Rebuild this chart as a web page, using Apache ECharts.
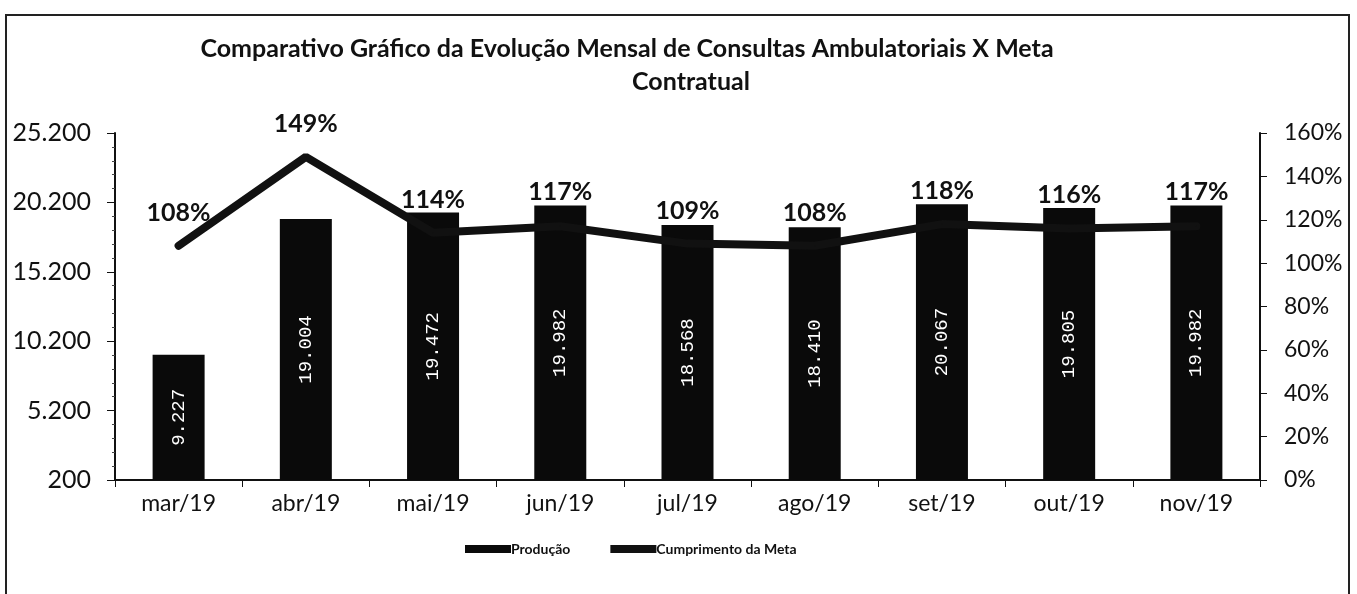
<!DOCTYPE html>
<html>
<head>
<meta charset="utf-8">
<script src="https://cdn.jsdelivr.net/npm/echarts@6/dist/echarts.min.js"></script>
<style>
  html, body { margin: 0; padding: 0; background: #fff; }
  #frame {
    position: absolute; left: 5px; top: 14px; width: 1345px; height: 620px;
    border: 2px solid #222; box-sizing: border-box;
  }
  #chart { position: absolute; left: 0; top: 0; width: 1357px; height: 594px; }
</style>
</head>
<body>
<div id="frame"></div>
<div id="chart"></div>
<script>
  const months = ["mar/19", "abr/19", "mai/19", "jun/19", "jul/19", "ago/19", "set/19", "out/19", "nov/19"];
  const producao = [9227, 19004, 19472, 19982, 18568, 18410, 20067, 19805, 19982];
  const cumprimento = [108, 149, 114, 117, 109, 108, 118, 116, 117];

  const fontFamily = "Lato, 'Open Sans', sans-serif";
  const fmtThousand = v => String(v).replace(/\B(?=(\d{3})+(?!\d))/g, ".");
  const titleStyle = { fontFamily, fontSize: 25, fontWeight: "bold", color: "#111" };

  const myChart = echarts.init(document.getElementById("chart"));
  const option = {
    textStyle: { fontFamily },
    title: [
      {
        text: "Comparativo Gráfico da Evolução Mensal de Consultas Ambulatoriais X Meta",
        left: 622,
        textAlign: "center",
        top: 31,
        textStyle: titleStyle
      },
      {
        text: "Contratual",
        left: 686,
        textAlign: "center",
        top: 64,
        textStyle: titleStyle
      }
    ],
    legend: {
      bottom: 33,
      left: 460,
      itemGap: 40,
      itemWidth: 46,
      itemHeight: 8,
      textStyle: { fontFamily, fontSize: 14, fontWeight: "bold", color: "#111", padding: [0, 0, 0, -5] },
      data: [
        { name: "Produção", icon: "rect" },
        { name: "Cumprimento da Meta", icon: "rect", itemStyle: { color: "#111" } }
      ]
    },
    grid: { left: 115, right: 97, top: 133, bottom: 114 },
    xAxis: {
      type: "category",
      data: months,
      axisLine: { lineStyle: { color: "#111", width: 2 } },
      axisTick: { show: true, length: 7, lineStyle: { color: "#111" } },
      axisLabel: { color: "#111", fontSize: 23, margin: 12 }
    },
    yAxis: [
      {
        type: "value",
        min: 200,
        max: 25200,
        interval: 5000,
        splitLine: { show: false },
        axisLine: { show: true, lineStyle: { color: "#111", width: 2 } },
        axisTick: { show: true, length: 8, lineStyle: { color: "#111" } },
        minorTick: { show: true, splitNumber: 5, length: 3, lineStyle: { color: "#444" } },
        axisLabel: { color: "#111", fontSize: 25, margin: 24, formatter: v => fmtThousand(v) }
      },
      {
        type: "value",
        min: 0,
        max: 160,
        interval: 20,
        position: "right",
        splitLine: { show: false },
        axisLine: { show: true, lineStyle: { color: "#111", width: 2 } },
        axisTick: { show: true, length: 7, lineStyle: { color: "#111" } },
        axisLabel: { color: "#111", fontSize: 23, margin: 24, formatter: "{value}%" }
      }
    ],
    series: [
      {
        name: "Produção",
        type: "bar",
        data: producao,
        barWidth: 52,
        itemStyle: { color: "#0a0a0a" },
        label: {
          show: true,
          position: "inside",
          rotate: 90,
          color: "#fff",
          fontSize: 19,
          fontFamily: "'Liberation Mono', monospace",
          formatter: p => fmtThousand(p.value)
        }
      },
      {
        name: "Cumprimento da Meta",
        type: "line",
        yAxisIndex: 1,
        data: cumprimento,
        symbol: "circle",
        symbolSize: 1,
        z: 5,
        lineStyle: { color: "#111", width: 8, cap: "round" },
        itemStyle: { color: "#111" },
        label: {
          show: true,
          position: "top",
          distance: 20,
          color: "#111",
          fontSize: 25,
          fontWeight: "bold",
          formatter: "{c}%"
        }
      }
    ]
  };
  myChart.setOption(option);

  // keep the percent labels just above the bar tops, like the original
  const lineData = cumprimento.map((v, i) => {
    const barTop = myChart.convertToPixel({ xAxisIndex: 0, yAxisIndex: 0 }, [i, producao[i]])[1];
    const pointY = myChart.convertToPixel({ xAxisIndex: 0, yAxisIndex: 1 }, [i, v])[1];
    return { value: v, label: { distance: Math.max(20, pointY - barTop) } };
  });
  myChart.setOption({ series: [{}, { data: lineData }] });
</script>
</body>
</html>
